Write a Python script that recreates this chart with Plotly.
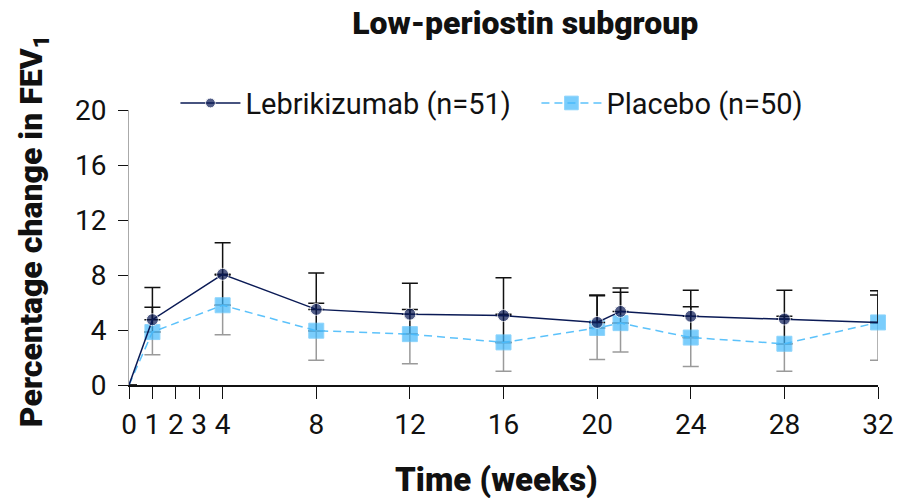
import plotly.graph_objects as go

weeks = [0, 1, 4, 8, 12, 16, 20, 21, 24, 28, 32]
lebri = [0, 4.75, 8.05, 5.5, 5.15, 5.05, 4.55, 5.35, 5.0, 4.8, 4.55]
lebri_err_up = [0, 2.35, 2.3, 2.65, 2.25, 2.75, 2.0, 1.7, 1.9, 2.1, 2.3]
placebo = [0, 3.85, 5.8, 3.95, 3.7, 3.1, 4.15, 4.5, 3.45, 3.0, 4.55]
placebo_err_up = [0, 1.8, 2.2, 2.0, 1.8, 2.05, 2.35, 2.25, 2.25, 2.0, 2.0]
placebo_err_down = [0, 1.65, 2.15, 2.15, 2.15, 2.1, 2.3, 2.1, 2.1, 2.0, 2.75]
x_ticks = [0, 1, 2, 3, 4, 8, 12, 16, 20, 24, 28, 32]
y_ticks = [0, 4, 8, 12, 16, 20]

NAVY = "#0a1a55"
LBLUE = "#42b8fc"
FONT = "Roboto"
TXT = "#111111"

lebri_sizes = [0] + [12] * (len(weeks) - 2) + [0]
placebo_sizes = [0] + [15] * (len(weeks) - 1)

fig = go.Figure()

# placebo upper error bars (black)
fig.add_trace(go.Scatter(
    x=weeks, y=placebo, mode="markers", showlegend=False, hoverinfo="skip",
    marker=dict(size=1, opacity=0),
    error_y=dict(type="data", symmetric=False, array=placebo_err_up,
                 arrayminus=[0] * len(weeks), color=TXT, thickness=1.5, width=8),
    cliponaxis=False,
))

# placebo
fig.add_trace(go.Scatter(
    x=weeks, y=placebo, mode="lines+markers", name="Placebo (n=50)",
    line=dict(color="#5cc2fb", width=1.5, dash="8px,5px"),
    marker=dict(symbol="square", size=placebo_sizes, color=LBLUE),
    error_y=dict(type="data", symmetric=False, array=[0] * len(weeks),
                 arrayminus=placebo_err_down, color="#9a9a9a", thickness=1.5, width=8),
    cliponaxis=False,
))

# lebrikizumab
fig.add_trace(go.Scatter(
    x=weeks, y=lebri, mode="lines+markers", name="Lebrikizumab (n=51)",
    line=dict(color=NAVY, width=1.5),
    marker=dict(symbol="circle", size=lebri_sizes, color=NAVY),
    error_y=dict(type="data", symmetric=False, array=lebri_err_up,
                 arrayminus=[0] * len(weeks), color=TXT, thickness=1.5, width=8),
    cliponaxis=False,
))

# page body has an 8px margin -> figure is 901x490 placed at (8, 8)
fig.update_layout(
    width=901, height=490,
    margin=dict(l=121, r=31, t=102, b=113, autoexpand=False),
    plot_bgcolor="white", paper_bgcolor="white",
    font=dict(family=FONT, size=28, color=TXT),
    title=dict(text="Low-periostin subgroup", x=0.574, xanchor="center",
               y=1.0, yanchor="top", yref="container", pad=dict(t=4, b=0),
               font=dict(family=FONT, size=32, color=TXT, weight=900)),
    legend=dict(orientation="h", x=0.062, xanchor="left", y=1.025, yanchor="middle",
                traceorder="reversed", font=dict(size=29, color=TXT),
                itemwidth=60, entrywidth=286, entrywidthmode="pixels",
                bgcolor="rgba(0,0,0,0)"),
    showlegend=True,
    annotations=[
        dict(text="Time (weeks)", xref="paper", yref="paper", x=0.49, y=-0.342,
             xanchor="center", yanchor="middle", showarrow=False,
             font=dict(family=FONT, size=33, color=TXT, weight=900)),
        dict(text="Percentage change in FEV<sub>1</sub>", xref="paper", yref="paper",
             x=-0.128, y=0.56, xanchor="center", yanchor="middle", textangle=-90,
             showarrow=False, font=dict(family=FONT, size=32, color=TXT, weight=900)),
    ],
)

fig.update_xaxes(
    range=[0, 32], tickmode="array", tickvals=x_ticks, ticktext=[str(t) for t in x_ticks],
    showgrid=False, zeroline=False, showline=True, linecolor=TXT, linewidth=1.5,
    ticks="outside", ticklen=12, tickcolor=TXT, tickwidth=1.2,
    ticklabelstandoff=2, automargin=False,
    tickfont=dict(size=28, color=TXT),
)
fig.update_yaxes(
    range=[0, 20], tickmode="array", tickvals=y_ticks, ticktext=[str(t) for t in y_ticks],
    showgrid=False, zeroline=False, showline=True, linecolor="#aaaaaa", linewidth=1,
    ticks="outside", ticklen=10, tickcolor=TXT, tickwidth=1.2,
    ticklabelstandoff=6, automargin=False,
    tickfont=dict(size=28, color=TXT),
)

fig.write_html("out.html")
